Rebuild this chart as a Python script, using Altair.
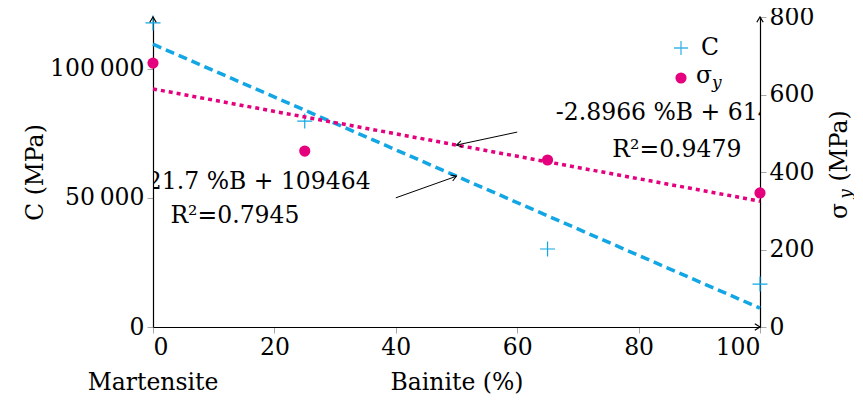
import altair as alt
import pandas as pd

# ---- data ----
bainite = [0, 25, 65, 100]
c_modulus = [117700, 79700, 30200, 16600]      # C (MPa)
sigma_y = [681, 454, 431, 346]                 # sigma_y (MPa)
trend_x = [0, 100]
c_fit = [-1021.7, 109464]                      # slope, intercept
sigma_fit = [-2.8966, 614.38]
c_label = ["-1021.7 %B + 109464", "R²=0.7945"]
sigma_label = ["-2.8966 %B + 614.38", "R²=0.9479"]
c_label_pos = [[14.3, 56100], [13.5, 43000]]
sigma_label_pos = [[87.3, 552], [86.3, 457]]
c_arrow = [40, 50000, 50]                       # from x, from y, to x (on fit line)
sigma_arrow = [60, 503, 50]
x_ticks = [0, 20, 40, 60, 80, 100]
c_ticks = [0, 50000, 100000]
sigma_ticks = [0, 200, 400, 600, 800]
c_domain = [0, 120000]
sigma_domain = [0, 800]

W, H = 607, 310
FONT = "DejaVu Serif"
FS = 23.5
FSUB = 17
BLUE = "#12a6e4"
PINK = "#e5007d"
TICK = "#a8a8a8"
ARROW = "M-0.8,1.3 L0,0 L0.8,1.3"
CROSS = "M-1,0 L1,0 M0,-1 L0,1"

xscale = alt.Scale(domain=[0, 100], nice=False, zero=False)
xaxis = alt.Axis(values=x_ticks, title="Bainite (%)", grid=False,
                 domainColor="black", domainWidth=1.2, tickColor=TICK, tickSize=6,
                 labelFont=FONT, labelFontSize=FS, labelColor="black", labelPadding=2,
                 titleFont=FONT, titleFontSize=FS, titleFontWeight="normal",
                 titleColor="black", titlePadding=12)
X = alt.X("x:Q", scale=xscale, axis=xaxis)

cscale = alt.Scale(domain=c_domain, nice=False, zero=False)
caxis = alt.Axis(values=c_ticks, title="C (MPa)", grid=False, orient="left",
                 domainColor="black", domainWidth=1.2, tickColor=TICK, tickSize=6,
                 labelFont=FONT, labelFontSize=FS, labelColor="black", labelPadding=3,
                 labelExpr="replace(format(datum.value, ','), ',', '\u2009')",
                 titleFont=FONT, titleFontSize=FS, titleFontWeight="normal",
                 titleColor="black", titleX=-118, titleY=155,
                 titleAlign="center", titleBaseline="middle")
YC = alt.Y("y:Q", scale=cscale, axis=caxis)

sscale = alt.Scale(domain=sigma_domain, nice=False, zero=False)
saxis = alt.Axis(values=sigma_ticks, title=None, grid=False, orient="right",
                 domainColor="black", domainWidth=1.2, tickColor=TICK, tickSize=6,
                 labelFont=FONT, labelFontSize=FS, labelColor="black", labelPadding=3)
YS = alt.Y("y:Q", scale=sscale, axis=saxis)

# ---- tables ----
c_pts = pd.DataFrame({"x": bainite, "y": c_modulus})
s_pts = pd.DataFrame({"x": bainite, "y": sigma_y})
c_line = pd.DataFrame({"x": trend_x, "y": [c_fit[0] * v + c_fit[1] for v in trend_x]})
s_line = pd.DataFrame({"x": trend_x, "y": [sigma_fit[0] * v + sigma_fit[1] for v in trend_x]})
c_arr = pd.DataFrame({"x": [c_arrow[0]], "y": [c_arrow[1]], "x2": [c_arrow[2]],
                      "y2": [c_fit[0] * c_arrow[2] + c_fit[1]]})
s_arr = pd.DataFrame({"x": [sigma_arrow[0]], "y": [sigma_arrow[1]], "x2": [sigma_arrow[2]],
                      "y2": [sigma_fit[0] * sigma_arrow[2] + sigma_fit[1]]})
c_txt = pd.DataFrame({"x": [p[0] for p in c_label_pos], "y": [p[1] for p in c_label_pos], "t": c_label})
s_txt = pd.DataFrame({"x": [p[0] for p in sigma_label_pos], "y": [p[1] for p in sigma_label_pos], "t": sigma_label})
one = pd.DataFrame({"x": [0], "y": [0]})

# ---- left (C) layer ----
l_fit = alt.Chart(c_line).mark_line(color=BLUE, strokeWidth=3.5, strokeDash=[9, 5]).encode(x=X, y=YC)
l_pts = alt.Chart(c_pts).mark_point(shape=CROSS, size=225, filled=False, stroke=BLUE,
                                   strokeWidth=1.2, opacity=1).encode(x=X, y=YC)
l_rule = alt.Chart(c_arr).mark_rule(color="black", strokeWidth=1).encode(
    x=X, y=YC, x2="x2:Q", y2="y2:Q")
l_head = alt.Chart(c_arr).mark_point(shape=ARROW, size=64, filled=False, stroke="black",
                                    strokeWidth=1, opacity=1, angle=70.4).encode(
    x=alt.X("x2:Q", scale=xscale, axis=xaxis), y=alt.Y("y2:Q", scale=cscale, axis=caxis))
l_text = alt.Chart(c_txt).mark_text(font=FONT, fontSize=FS, color="black", align="center",
                                   baseline="middle", clip=True).encode(x=X, y=YC, text="t:N")
ax_top = alt.Chart(pd.DataFrame({"x": [0], "y": [c_domain[1]]})).mark_point(
    shape=ARROW, size=64, filled=False, stroke="black", strokeWidth=1.2, opacity=1, angle=0
).encode(x=X, y=YC)
ax_right = alt.Chart(pd.DataFrame({"x": [100], "y": [0]})).mark_point(
    shape=ARROW, size=64, filled=False, stroke="black", strokeWidth=1.2, opacity=1, angle=90
).encode(x=X, y=YC)
mart = alt.Chart(one).mark_text(font=FONT, fontSize=FS, color="black", align="center",
                               baseline="middle", text="Martensite").encode(x=X, y=alt.value(366))
leg_c_sym = alt.Chart(one).mark_point(shape=CROSS, size=196, filled=False, stroke="#3cb4ea",
                                     strokeWidth=1.3, opacity=1).encode(x=alt.value(528), y=alt.value(31))
leg_c_txt = alt.Chart(one).mark_text(font=FONT, fontSize=FS, color="black", align="left",
                                    baseline="middle", text="C").encode(x=alt.value(548), y=alt.value(31))
leg_s_sym = alt.Chart(one).mark_circle(size=125, color=PINK, opacity=1).encode(
    x=alt.value(528), y=alt.value(61))
leg_s_txt = alt.Chart(one).mark_text(font=FONT, fontSize=FS, color="black", align="left",
                                    baseline="middle", text="σ").encode(x=alt.value(543), y=alt.value(59))
leg_s_sub = alt.Chart(one).mark_text(font=FONT, fontSize=FSUB, fontStyle="italic", color="black",
                                    align="left", baseline="middle", text="y").encode(
    x=alt.value(559), y=alt.value(66))
rt_main = alt.Chart(one).mark_text(font=FONT, fontSize=FS, color="black", align="center",
                                  baseline="middle", angle=270, text="(MPa)").encode(
    x=alt.value(687), y=alt.value(129))
rt_sig = alt.Chart(one).mark_text(font=FONT, fontSize=FS, color="black", align="center",
                                 baseline="middle", angle=270, text="σ").encode(
    x=alt.value(687), y=alt.value(194))
rt_sub = alt.Chart(one).mark_text(font=FONT, fontSize=FSUB, fontStyle="italic", color="black",
                                 align="center", baseline="middle", angle=270, text="y").encode(
    x=alt.value(693), y=alt.value(177))

left = alt.layer(l_fit, l_pts, l_rule, l_head, l_text, ax_top, ax_right, mart,
                 leg_c_sym, leg_c_txt, leg_s_sym, leg_s_txt, leg_s_sub,
                 rt_main, rt_sig, rt_sub)

# ---- right (sigma) layer ----
r_fit = alt.Chart(s_line).mark_line(color=PINK, strokeWidth=3.5, strokeDash=[4, 4]).encode(x=X, y=YS)
r_pts = alt.Chart(s_pts).mark_circle(size=125, color=PINK, opacity=1).encode(x=X, y=YS)
r_rule = alt.Chart(s_arr).mark_rule(color="black", strokeWidth=1).encode(
    x=X, y=YS, x2="x2:Q", y2="y2:Q")
r_head = alt.Chart(s_arr).mark_point(shape=ARROW, size=64, filled=False, stroke="black",
                                    strokeWidth=1, opacity=1, angle=257.8).encode(
    x=alt.X("x2:Q", scale=xscale, axis=xaxis), y=alt.Y("y2:Q", scale=sscale, axis=saxis))
r_text = alt.Chart(s_txt).mark_text(font=FONT, fontSize=FS, color="black", align="center",
                                   baseline="middle", clip=True).encode(x=X, y=YS, text="t:N")
ax_rtop = alt.Chart(pd.DataFrame({"x": [100], "y": [sigma_domain[1]]})).mark_point(
    shape=ARROW, size=64, filled=False, stroke="black", strokeWidth=1.2, opacity=1, angle=0
).encode(x=X, y=YS)

right = alt.layer(r_fit, r_pts, r_rule, r_head, r_text, ax_rtop)

chart = alt.layer(left, right).resolve_scale(y="independent").properties(
    width=W, height=H,
    autosize=alt.AutoSizeParams(type="none"),
    padding={"left": 145, "top": 9, "right": 94, "bottom": 69},
).configure_view(stroke=None)

chart.save("out.html", embed_options={"renderer": "svg", "actions": False})
